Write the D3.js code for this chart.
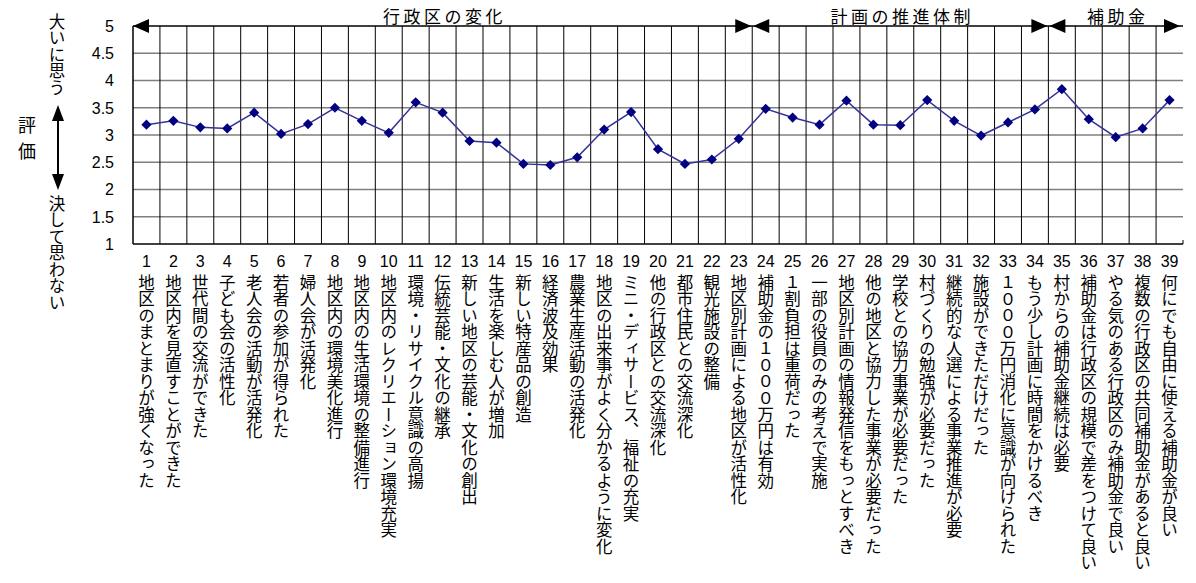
<!DOCTYPE html>
<html>
<head>
<meta charset="utf-8">
<script src="https://cdn.jsdelivr.net/npm/d3@7"></script>
<style>
  body { margin: 0; background: #fff; }
  text { font-family: "Liberation Sans", "Noto Sans CJK JP", sans-serif; fill: #000; }
  .jp { font-family: "Noto Sans CJK JP", sans-serif; }
  .vert { writing-mode: vertical-rl; }
</style>
</head>
<body>
<div id="chart"></div>
<script>
// question items (x axis)
var categories = [
  "地区のまとまりが強くなった",
  "地区内を見直すことができた",
  "世代間の交流ができた",
  "子ども会の活性化",
  "老人会の活動が活発化",
  "若者の参加が得られた",
  "婦人会が活発化",
  "地区内の環境美化進行",
  "地区内の生活環境の整備進行",
  "地区内のレクリエーション環境充実",
  "環境・リサイクル意識の高揚",
  "伝統芸能・文化の継承",
  "新しい地区の芸能・文化の創出",
  "生活を楽しむ人が増加",
  "新しい特産品の創造",
  "経済波及効果",
  "農業生産活動の活発化",
  "地区の出来事がよく分かるように変化",
  "ミニ・ディサービス、福祉の充実",
  "他の行政区との交流深化",
  "都市住民との交流深化",
  "観光施設の整備",
  "地区別計画による地区が活性化",
  "補助金の１０００万円は有効",
  "１割負担は重荷だった",
  "一部の役員のみの考えで実施",
  "地区別計画の情報発信をもっとすべき",
  "他の地区と協力した事業が必要だった",
  "学校との協力事業が必要だった",
  "村づくりの勉強が必要だった",
  "継続的な人選による事業推進が必要",
  "施設ができただけだった",
  "１０００万円消化に意識が向けられた",
  "もう少し計画に時間をかけるべき",
  "村からの補助金継続は必要",
  "補助金は行政区の規模で差をつけて良い",
  "やる気のある行政区のみ補助金で良い",
  "複数の行政区の共同補助金があると良い",
  "何にでも自由に使える補助金が良い"
];

// average rating per item
var scores = [
  3.19, 3.26, 3.14, 3.12, 3.41, 3.02, 3.20, 3.50, 3.26, 3.04,
  3.60, 3.41, 2.89, 2.86, 2.47, 2.45, 2.59, 3.10, 3.42, 2.74,
  2.47, 2.55, 2.93, 3.48, 3.32, 3.19, 3.63, 3.19, 3.18, 3.64,
  3.26, 2.99, 3.23, 3.47, 3.84, 3.29, 2.96, 3.12, 3.64
];

// groups along the top: name, first item, last item
var sectionNames = ["行政区の変化", "計画の推進体制", "補助金"];
var sectionFirst = [1, 24, 35];
var sectionLast = [23, 34, 39];

var yTicks = [1, 1.5, 2, 2.5, 3, 3.5, 4, 4.5, 5];

var W = 1196, H = 583;
var margin = {top: 26, right: 13, bottom: 339, left: 133};
var width = W - margin.left - margin.right,
    height = H - margin.top - margin.bottom;

var svg = d3.select("#chart").append("svg")
  .attr("width", W)
  .attr("height", H);

var g = svg.append("g")
  .attr("transform", "translate(" + margin.left + "," + margin.top + ")");

var ids = d3.range(1, categories.length + 1);

var x = d3.scaleBand()
  .domain(ids)
  .range([0, width]);

var y = d3.scaleLinear()
  .domain([1, 5])
  .range([height, 0]);

// horizontal grid lines (gray)
g.selectAll(".hgrid")
  .data(yTicks.filter(function(t) { return t > 1 && t < 5; }))
  .enter().append("line")
    .attr("x1", 0).attr("x2", width)
    .attr("y1", function(d) { return y(d); })
    .attr("y2", function(d) { return y(d); })
    .attr("stroke", "#7f7f7f")
    .attr("stroke-width", 1.5);

// vertical grid lines at item boundaries
g.selectAll(".vgrid")
  .data(ids.slice(1))
  .enter().append("line")
    .attr("x1", function(d) { return x(d); })
    .attr("x2", function(d) { return x(d); })
    .attr("y1", 0).attr("y2", height)
    .attr("stroke", "#000")
    .attr("stroke-width", 1);

// axes lines
g.append("line").attr("x1", 0).attr("x2", 0).attr("y1", 0).attr("y2", height)
  .attr("stroke", "#000").attr("stroke-width", 1.5);
g.append("line").attr("x1", 0).attr("x2", width).attr("y1", height).attr("y2", height)
  .attr("stroke", "#000").attr("stroke-width", 1.5);
g.append("line").attr("x1", width).attr("x2", width).attr("y1", height - 4).attr("y2", height)
  .attr("stroke", "#000").attr("stroke-width", 1);
g.append("line").attr("x1", 0).attr("x2", width).attr("y1", 0).attr("y2", 0)
  .attr("stroke", "#000").attr("stroke-width", 1.5);

// y tick labels
g.selectAll(".ylab")
  .data(yTicks)
  .enter().append("text")
    .attr("x", -19)
    .attr("y", function(d) { return y(d); })
    .attr("dy", "0.36em")
    .attr("text-anchor", "end")
    .attr("font-size", "16px")
    .text(function(d) { return d; });

// x numbers
g.selectAll(".xnum")
  .data(ids)
  .enter().append("text")
    .attr("x", function(d) { return x(d) + x.bandwidth() / 2; })
    .attr("y", height + 17)
    .attr("dy", "0.36em")
    .attr("text-anchor", "middle")
    .attr("font-size", "16px")
    .text(function(d) { return d; });

// vertical item labels
g.selectAll(".xlab")
  .data(ids)
  .enter().append("text")
    .attr("class", "jp vert")
    .attr("x", function(d) { return x(d) + x.bandwidth() / 2; })
    .attr("y", height + 30)
    .attr("font-size", "16.5px")
    .text(function(d) { return categories[d - 1]; });

// section arrows along the top
function arrowHead(tipX, dir) {
  var len = 16, half = 7;
  g.append("path")
    .attr("d", "M" + tipX + ",0 L" + (tipX - dir * len) + "," + (-half) +
               " L" + (tipX - dir * len) + "," + half + " Z")
    .attr("fill", "#000");
}
sectionNames.forEach(function(name, i) {
  var x0 = x(sectionFirst[i]), x1 = x(sectionLast[i]) + x.bandwidth();
  arrowHead(x0 + (i > 0 ? 1 : 0), -1);
  arrowHead(i === sectionNames.length - 1 ? x1 - 3 : x1 - 1, 1);
  g.append("text")
    .attr("class", "jp")
    .attr("x", (x0 + x1) / 2 + 2)
    .attr("y", -3)
    .attr("text-anchor", "middle")
    .attr("font-size", "17px")
    .attr("letter-spacing", "3.5px")
    .text(name);
});

// the line and markers
var line = d3.line()
  .x(function(d, i) { return x(ids[i]) + x.bandwidth() / 2; })
  .y(function(d) { return y(d); });

g.append("path")
  .datum(scores)
  .attr("d", line)
  .attr("fill", "none")
  .attr("stroke", "#333399")
  .attr("stroke-width", 1.5);

g.selectAll(".pt")
  .data(scores)
  .enter().append("path")
    .attr("d", d3.symbol().type(d3.symbolSquare).size(52))
    .attr("transform", function(d, i) {
      return "translate(" + (x(ids[i]) + x.bandwidth() / 2) + "," + y(d) + ") rotate(45)";
    })
    .attr("fill", "#000080");

// left side rating labels
svg.append("text").attr("class", "jp vert")
  .attr("x", 57).attr("y", 13).attr("font-size", "16.5px")
  .text("大いに思う");
svg.append("text").attr("class", "jp vert")
  .attr("x", 57).attr("y", 195).attr("font-size", "16.5px")
  .text("決して思わない");
svg.append("text").attr("class", "jp")
  .attr("x", 27).attr("y", 126).attr("dy", "0.36em")
  .attr("text-anchor", "middle").attr("font-size", "18px").text("評");
svg.append("text").attr("class", "jp")
  .attr("x", 27).attr("y", 152).attr("dy", "0.36em")
  .attr("text-anchor", "middle").attr("font-size", "18px").text("価");

// double arrow
svg.append("line").attr("x1", 58).attr("x2", 58).attr("y1", 115).attr("y2", 180)
  .attr("stroke", "#000").attr("stroke-width", 2);
svg.append("path").attr("d", "M58,105 L52,121 L64,121 Z").attr("fill", "#000");
svg.append("path").attr("d", "M58,190 L52,174 L64,174 Z").attr("fill", "#000");
</script>
</body>
</html>
